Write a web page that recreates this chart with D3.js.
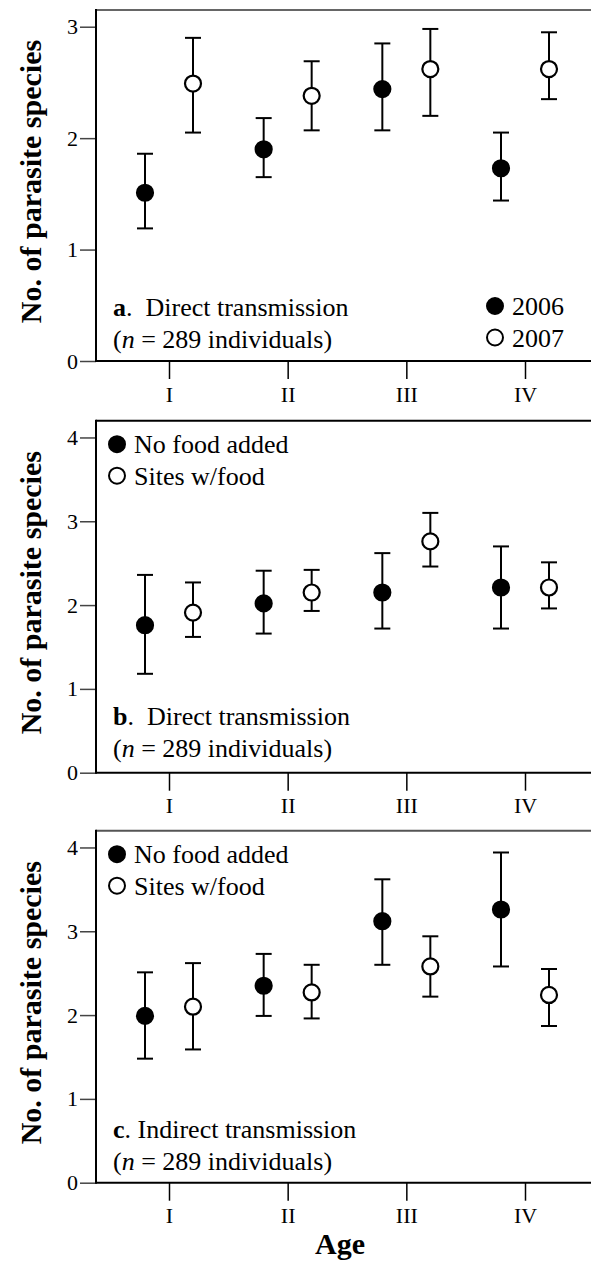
<!DOCTYPE html>
<html>
<head>
<meta charset="utf-8">
<script src="https://cdn.jsdelivr.net/npm/d3@7"></script>
<style>
  body { margin: 0; background: #fff; }
  text { font-family: "Liberation Serif", "Times New Roman", serif; fill: #000; }
</style>
</head>
<body>
<svg id="canvas"></svg>
<script>
const ages = ['I', 'II', 'III', 'IV']

// panel a : direct transmission, by year
const aLegend = ['2006', '2007']
const a2006 = [1.51, 1.90, 2.44, 1.73]
const a2006Lo = [1.19, 1.65, 2.07, 1.44]
const a2006Hi = [1.86, 2.18, 2.85, 2.05]
const a2007 = [2.49, 2.38, 2.62, 2.62]
const a2007Lo = [2.05, 2.07, 2.20, 2.35]
const a2007Hi = [2.90, 2.69, 2.98, 2.95]

// panel b : direct transmission, by food treatment
const foodLegend = ['No food added', 'Sites w/food']
const bNoFood = [1.76, 2.02, 2.15, 2.21]
const bNoFoodLo = [1.18, 1.66, 1.72, 1.72]
const bNoFoodHi = [2.36, 2.41, 2.62, 2.70]
const bFood = [1.91, 2.15, 2.76, 2.21]
const bFoodLo = [1.62, 1.93, 2.46, 1.96]
const bFoodHi = [2.27, 2.42, 3.10, 2.51]

// panel c : indirect transmission, by food treatment
const cNoFood = [1.99, 2.35, 3.12, 3.26]
const cNoFoodLo = [1.48, 1.99, 2.60, 2.58]
const cNoFoodHi = [2.51, 2.73, 3.62, 3.94]
const cFood = [2.10, 2.27, 2.58, 2.24]
const cFoodLo = [1.59, 1.96, 2.22, 1.87]
const cFoodHi = [2.62, 2.60, 2.94, 2.55]

const aTicks = [0, 1, 2, 3]
const bcTicks = [0, 1, 2, 3, 4]

const width = 591
const height = 1264
const left = 96
const right = 591

let svg = d3.select('#canvas').attr('width', width).attr('height', height)

let x = d3.scalePoint().domain(ages).range([169, 525])

let panels = [
  { letter: 'a', title: 'Direct transmission', gap: '  ', top: 10, bottom: 361, ymax: 3.15, ticks: aTicks,
    topColor: '#666', legend: aLegend, legendPos: 'right', capShift: 0,
    series: [[a2006, a2006Lo, a2006Hi], [a2007, a2007Lo, a2007Hi]] },
  { letter: 'b', title: 'Direct transmission', gap: '  ', top: 420.7, bottom: 772.7, ymax: 4.2, ticks: bcTicks,
    topColor: '#000', legend: foodLegend, legendPos: 'left', capShift: -3,
    series: [[bNoFood, bNoFoodLo, bNoFoodHi], [bFood, bFoodLo, bFoodHi]] },
  { letter: 'c', title: 'Indirect transmission', gap: ' ', top: 830.7, bottom: 1182.7, ymax: 4.2, ticks: bcTicks,
    topColor: '#555', legend: foodLegend, legendPos: 'left', capShift: 0,
    series: [[cNoFood, cNoFoodLo, cNoFoodHi], [cFood, cFoodLo, cFoodHi]] }
]

const offsets = [-24, 24]
const fills = ['#000', '#fff']

drawPanel = (p) => {
  let y = d3.scaleLinear().domain([0, p.ymax]).range([p.bottom, p.top])
  let g = svg.append('g')

  // y axis
  let yAxis = d3.axisLeft(y).tickValues(p.ticks).tickSize(16).tickPadding(2).tickFormat(d3.format('d'))
  let ya = g.append('g').attr('transform', 'translate(' + left + ',0)').call(yAxis)
  ya.select('.domain').remove()
  ya.selectAll('.tick line').attr('stroke', '#444').attr('stroke-width', 1.5)
  ya.selectAll('.tick text').attr('font-size', 22).attr('font-family', '"Liberation Serif", serif')

  // x axis
  let xAxis = d3.axisBottom(x).tickSize(18).tickPadding(7)
  let xa = g.append('g').attr('transform', 'translate(0,' + p.bottom + ')').call(xAxis)
  xa.select('.domain').remove()
  xa.selectAll('.tick line').attr('stroke', '#000').attr('stroke-width', 1.5)
  xa.selectAll('.tick text').attr('font-size', 22).attr('font-family', '"Liberation Serif", serif')

  // frame: top, left, bottom
  g.append('line').attr('x1', left).attr('x2', right).attr('y1', p.top).attr('y2', p.top)
    .attr('stroke', p.topColor).attr('stroke-width', 2)
  g.append('line').attr('x1', left).attr('x2', left).attr('y1', p.top - 1).attr('y2', p.bottom + 1)
    .attr('stroke', '#000').attr('stroke-width', 2)
  g.append('line').attr('x1', left).attr('x2', right).attr('y1', p.bottom).attr('y2', p.bottom)
    .attr('stroke', '#000').attr('stroke-width', 2)

  // y label
  g.append('text')
    .attr('transform', 'translate(41,' + ((p.top + p.bottom) / 2 - 4) + ') rotate(-90)')
    .attr('text-anchor', 'middle')
    .attr('font-size', 30)
    .attr('font-weight', 'bold')
    .text('No. of parasite species')

  // error bars + points
  p.series.forEach((s, si) => {
    let rows = ages.map((age, i) => ({ age: age, m: s[0][i], lo: s[1][i], hi: s[2][i] }))
    let pts = g.append('g').selectAll('g').data(rows).enter().append('g')
      .attr('transform', (d) => 'translate(' + (x(d.age) + offsets[si]) + ',0)')
    pts.append('line').attr('y1', (d) => y(d.lo)).attr('y2', (d) => y(d.hi))
      .attr('stroke', '#000').attr('stroke-width', 2)
    pts.append('line').attr('x1', -8).attr('x2', 8).attr('y1', (d) => y(d.hi)).attr('y2', (d) => y(d.hi))
      .attr('stroke', '#000').attr('stroke-width', 2)
    pts.append('line').attr('x1', -8).attr('x2', 8).attr('y1', (d) => y(d.lo)).attr('y2', (d) => y(d.lo))
      .attr('stroke', '#000').attr('stroke-width', 2)
    pts.append('circle').attr('cy', (d) => y(d.m)).attr('r', 8)
      .attr('fill', fills[si]).attr('stroke', '#000').attr('stroke-width', 2.2)
  })

  // panel caption
  let cap1 = g.append('text').attr('x', 113).attr('y', p.bottom - 45 + p.capShift).attr('font-size', 26)
    .attr('xml:space', 'preserve')
  cap1.append('tspan').attr('font-weight', 'bold').text(p.letter)
  cap1.append('tspan').text('.' + p.gap + p.title)
  let cap2 = g.append('text').attr('x', 113).attr('y', p.bottom - 13 + p.capShift).attr('font-size', 26)
    .attr('xml:space', 'preserve')
  cap2.append('tspan').text('(')
  cap2.append('tspan').attr('font-style', 'italic').text('n')
  cap2.append('tspan').text(' = 289 individuals)')

  // legend
  let lx, ly
  if (p.legendPos === 'right') {
    lx = 495
    ly = p.bottom - 55
  } else {
    lx = 117
    ly = p.top + 23.5
  }
  p.legend.forEach((name, i) => {
    g.append('circle').attr('cx', lx).attr('cy', ly + i * 31.5).attr('r', 8)
      .attr('fill', fills[i]).attr('stroke', '#000').attr('stroke-width', 2)
    g.append('text').attr('x', lx + 17).attr('y', ly + i * 31.5 + 9).attr('font-size', 26).text(name)
  })
}

panels.forEach(drawPanel)

svg.append('text')
  .attr('x', 340).attr('y', 1254)
  .attr('text-anchor', 'middle')
  .attr('font-size', 30)
  .attr('font-weight', 'bold')
  .text('Age')
</script>
</body>
</html>
